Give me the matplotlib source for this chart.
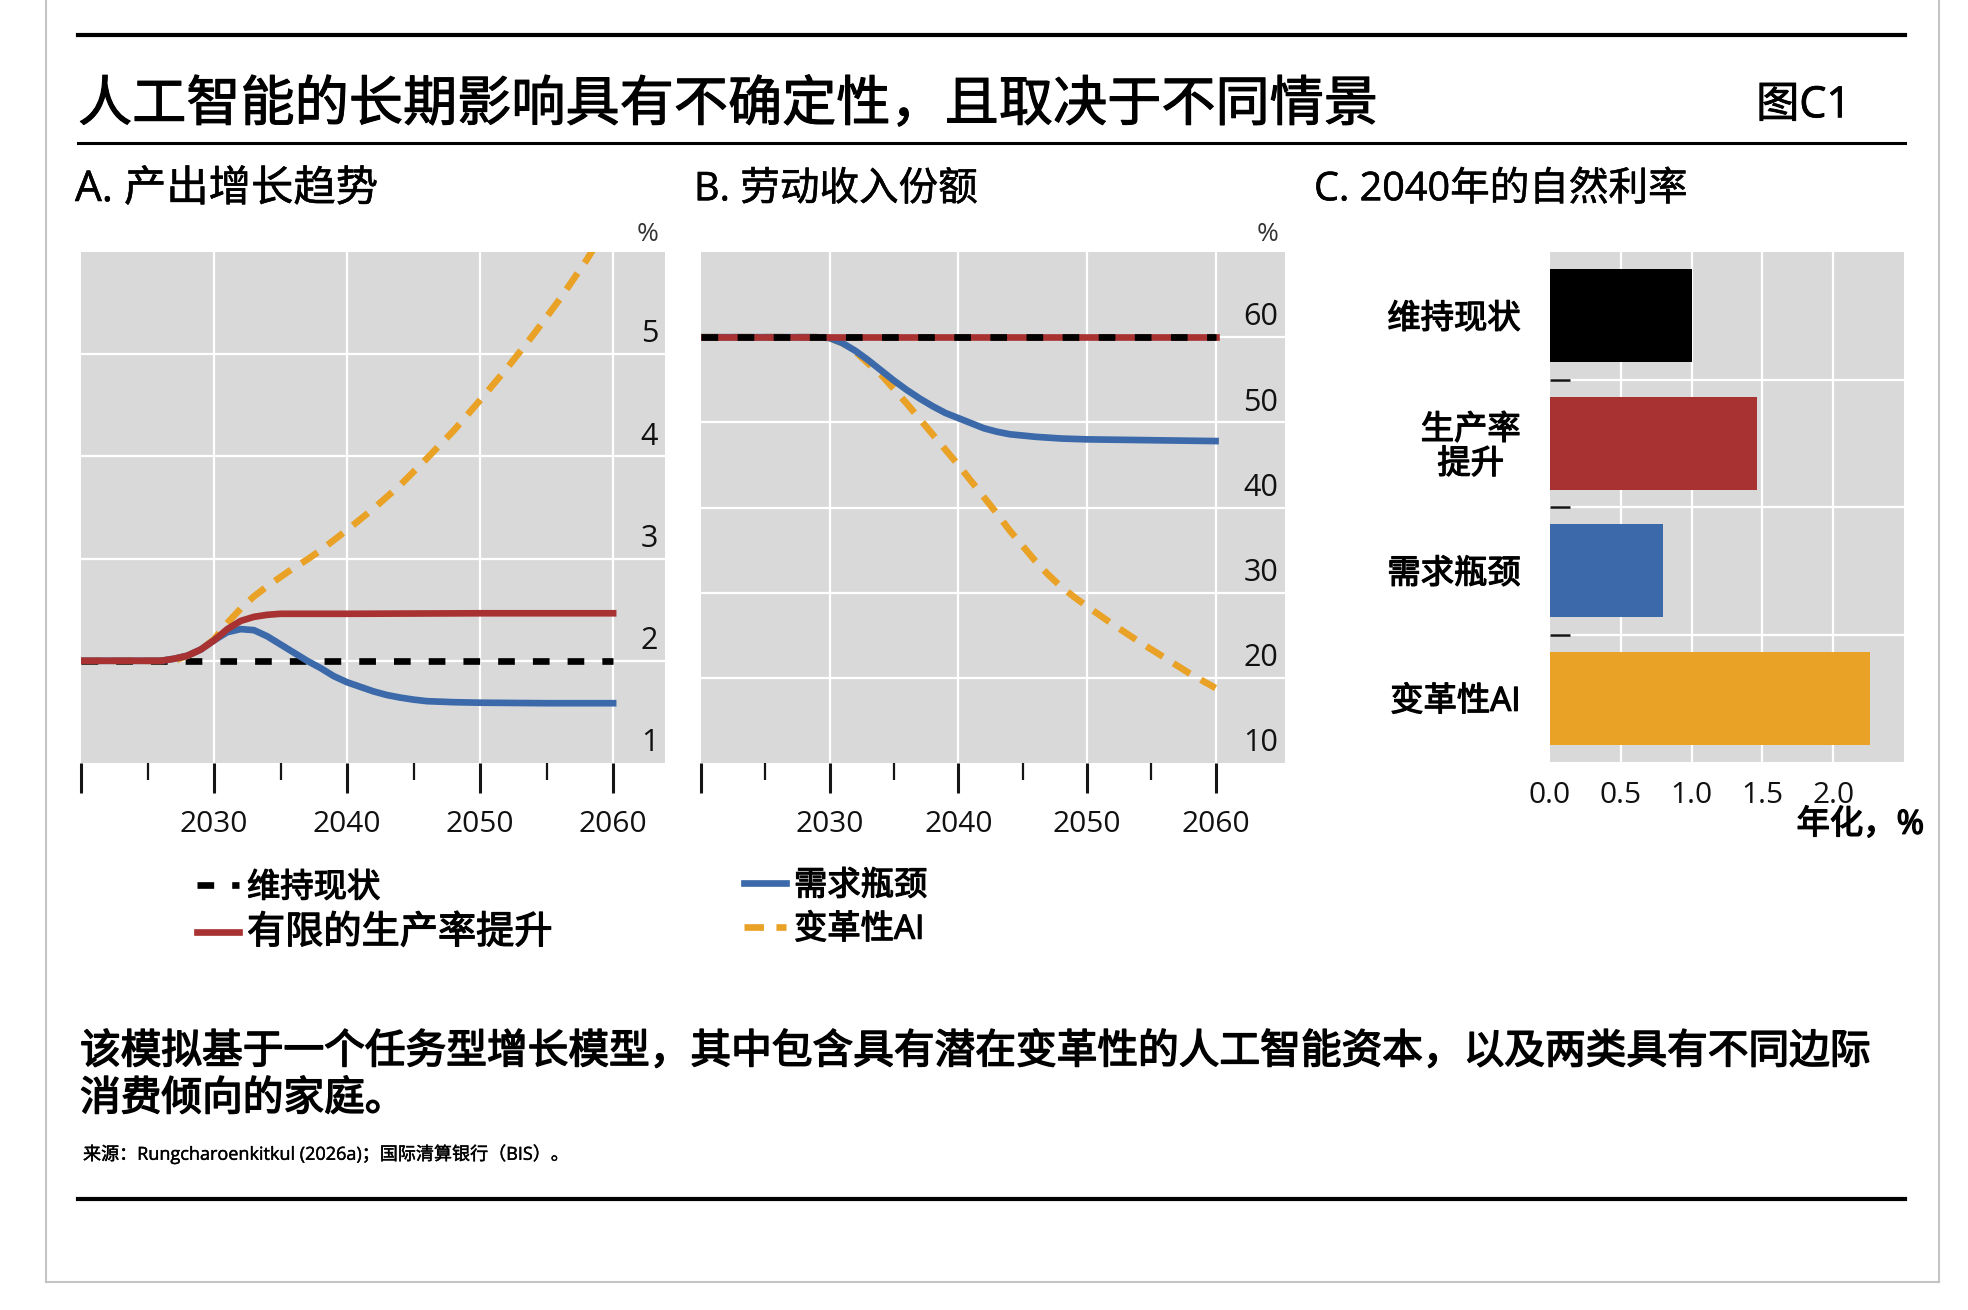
import matplotlib
matplotlib.use("Agg")
import matplotlib.pyplot as plt
import matplotlib.patheffects as pe
from matplotlib.lines import Line2D
from matplotlib.transforms import ScaledTranslation

plt.rcParams['font.family'] = ['Open Sans', 'Noto Sans CJK SC', 'DejaVu Sans']
plt.rcParams['lines.scale_dashes'] = False
plt.rcParams['axes.axisbelow'] = True

# Colours
BLACK = '#000000'
RED = '#a83232'
BLUE = '#3b69a9'
ORANGE = '#e9a126'
PANEL_BG = '#d9d9d9'
TICK_CLR = '#151515'

# ---- Panel A: output growth trend (%) ----
a_status_years = [2020, 2060]
a_status = [2.0, 2.0]
a_prod_years = [2020, 2026, 2027, 2028, 2029, 2030, 2031, 2032, 2033, 2034, 2035,
                2040, 2050, 2060]
a_prod = [2.0, 2.0, 2.02, 2.05, 2.11, 2.20, 2.31, 2.39, 2.43, 2.45, 2.46,
          2.46, 2.465, 2.465]
a_demand_years = [2020, 2026, 2027, 2028, 2029, 2030, 2031, 2032, 2033, 2034, 2035,
                  2036, 2037, 2038, 2039, 2040, 2041, 2042, 2043, 2044, 2045, 2046,
                  2048, 2050, 2055, 2060]
a_demand = [2.0, 2.0, 2.02, 2.05, 2.11, 2.20, 2.28, 2.31, 2.30, 2.24, 2.16,
            2.08, 2.0, 1.93, 1.85, 1.79, 1.745, 1.70, 1.665, 1.64, 1.62, 1.605,
            1.595, 1.59, 1.585, 1.585]
a_trans_years = [2020, 2027, 2028, 2029, 2030, 2031, 2032, 2033, 2034, 2035, 2036,
                 2037, 2038, 2040, 2042, 2044, 2046, 2048, 2050, 2052, 2054, 2056,
                 2058, 2060]
a_trans = [2.0, 2.0, 2.05, 2.11, 2.21, 2.37, 2.51, 2.63, 2.73, 2.82, 2.91,
           2.99, 3.08, 3.28, 3.49, 3.72, 3.98, 4.25, 4.55, 4.86, 5.19, 5.54,
           5.92, 6.35]
a_yticks = [1, 2, 3, 4, 5]

# ---- Panel B: labour income share (%) ----
b_status_years = [2020, 2060]
b_status = [60, 60]
b_prod_years = [2020, 2060]
b_prod = [60, 60]
b_demand_years = [2020, 2029, 2030, 2031, 2032, 2033, 2034, 2035, 2036, 2037, 2038,
                  2039, 2040, 2041, 2042, 2043, 2044, 2046, 2048, 2050, 2055, 2060]
b_demand = [60, 60, 59.9, 59.3, 58.4, 57.3, 56.1, 54.9, 53.8, 52.8, 51.9,
            51.1, 50.5, 49.9, 49.3, 48.9, 48.6, 48.3, 48.1, 48.0, 47.9, 47.8]
b_trans_years = [2020, 2029, 2030, 2031, 2032, 2033, 2034, 2035, 2036, 2037, 2038,
                 2039, 2040, 2041, 2042, 2043, 2044, 2045, 2046, 2047, 2048, 2049,
                 2050, 2052, 2054, 2056, 2058, 2060]
b_trans = [60, 60, 59.9, 59.3, 58.3, 56.9, 55.6, 53.9, 52.2, 50.4, 48.6,
           46.8, 45.0, 43.1, 41.2, 39.3, 37.3, 35.5, 33.7, 32.1, 30.7, 29.5,
           28.4, 26.3, 24.3, 22.4, 20.5, 18.8]
b_yticks = [10, 20, 30, 40, 50, 60]

# ---- Panel C: natural rate in 2040 (annualised, %) ----
c_labels = ['维持现状', '生产率\n提升', '需求瓶颈', '变革性AI']
c_values = [1.0, 1.46, 0.80, 2.26]
c_colors = [BLACK, RED, BLUE, ORANGE]
c_xticks = [0.0, 0.5, 1.0, 1.5, 2.0]
c_xticklabels = ['0.0', '0.5', '1.0', '1.5', '2.0']

x_major = [2020, 2030, 2040, 2050, 2060]
x_major_labels = ['', '2030', '2040', '2050', '2060']
x_minor = [2025, 2035, 2045, 2055]

legend_a = ['维持现状', '有限的生产率提升']
legend_b = ['需求瓶颈', '变革性AI']

W, H = 1968, 1310
fig = plt.figure(figsize=(W / 100, H / 100), dpi=100)


def fx(px):
    return px / W


def fy(py):
    return 1 - py / H


def heavy(w):
    # thicken the regular CJK face a little (no medium weight installed)
    return [pe.withStroke(linewidth=w, foreground='black')]


LW = 4.8
DASH_K = (12, 13)
DASH_O = (14, 9)


def line_panel(rect, xmax, ylim, yticks):
    ax = fig.add_axes(rect)
    ax.set_facecolor(PANEL_BG)
    for s in ax.spines.values():
        s.set_visible(False)
    ax.set_xlim(2020, xmax)
    ax.set_ylim(*ylim)
    ax.set_xticks(x_major)
    ax.set_xticklabels(x_major_labels)
    ax.set_xticks(x_minor, minor=True)
    ax.tick_params(axis='x', which='major', direction='out', length=21.5, width=2.2,
                   pad=12, labelsize=21.5, color=TICK_CLR, labelcolor='#111111')
    ax.tick_params(axis='x', which='minor', direction='out', length=12, width=1.6,
                   color=TICK_CLR)
    ax.set_yticks(yticks)
    ax.tick_params(axis='y', length=0, labelleft=False)
    ax.grid(True, which='major', color='white', linewidth=1.6)
    ax.get_xgridlines()[0].set_visible(False)
    ax.get_ygridlines()[0].set_visible(False)
    off = ScaledTranslation(-4.8 / 72, 8.5 / 72, fig.dpi_scale_trans)
    for v in yticks:
        ax.text(1, v, str(v), transform=ax.get_yaxis_transform() + off,
                ha='right', va='baseline', fontsize=22, color='#111111')
    ax.annotate('%', xy=(1, 1), xycoords='axes fraction', xytext=(-5, 3.5),
                textcoords='offset points', ha='right', va='bottom',
                fontsize=19, color='#333333')
    return ax


# Panel A
ax_a = line_panel([fx(81), fy(763), fx(584), 511 / H], 2063.9, (1, 6), a_yticks)
la1, = ax_a.plot(a_status_years, a_status, color=BLACK, lw=LW, dashes=DASH_K, zorder=2)
la4, = ax_a.plot(a_trans_years, a_trans, color=ORANGE, lw=LW, dashes=DASH_O, zorder=3)
la3, = ax_a.plot(a_demand_years, a_demand, color=BLUE, lw=LW, zorder=4)
la2, = ax_a.plot(a_prod_years, a_prod, color=RED, lw=LW, zorder=5)

# Panel B
ax_b = line_panel([fx(701), fy(763), fx(584), 511 / H], 2065.4, (10, 70), b_yticks)
ax_b.plot(b_trans_years, b_trans, color=ORANGE, lw=LW, dashes=DASH_O, zorder=2)
ax_b.plot(b_demand_years, b_demand, color=BLUE, lw=LW, zorder=3)
ax_b.plot(b_prod_years, b_prod, color=RED, lw=LW, zorder=4)
ax_b.plot(b_status_years, b_status, color=BLACK, lw=LW, dashes=(12, 14), zorder=5)

# Panel C
ax_c = fig.add_axes([fx(1550), fy(762), fx(354), 510 / H])
ax_c.set_facecolor(PANEL_BG)
for s in ax_c.spines.values():
    s.set_visible(False)
c_pos = [i + 0.5 for i in range(len(c_values))]
ax_c.barh(c_pos, c_values, height=0.73, color=c_colors, zorder=2)
ax_c.set_xlim(0, 2.5)
ax_c.set_ylim(len(c_values), 0)
ax_c.set_xticks(c_xticks)
ax_c.set_xticklabels(c_xticklabels)
ax_c.tick_params(axis='x', length=0, pad=14, labelsize=21.5, labelcolor='#111111')
ax_c.set_yticks(c_pos)
ax_c.set_yticklabels(c_labels)
ax_c.set_yticks([1, 2, 3], minor=True)
ax_c.tick_params(axis='y', which='major', length=0, pad=21, labelsize=24)
ax_c.tick_params(axis='y', which='minor', direction='in', length=14.5, width=1.8,
                 color=TICK_CLR)
for t in ax_c.get_yticklabels():
    t.set_multialignment('center')
    t.set_linespacing(1.05)
    t.set_path_effects(heavy(0.9))
ax_c.grid(True, axis='x', which='major', color='white', linewidth=1.6)
ax_c.grid(True, axis='y', which='minor', color='white', linewidth=1.6)
ax_c.get_xgridlines()[0].set_visible(False)
ax_c.text(1.057, -0.124, '年化，%', transform=ax_c.transAxes, ha='right', va='center',
          fontsize=24, path_effects=heavy(1.0))

# Legends
leg_a = fig.legend([la1, la2], legend_a, loc='upper left',
                   bbox_to_anchor=(fx(197), fy(872)), frameon=False, borderpad=0,
                   borderaxespad=0, handlelength=1.25, handletextpad=0.25,
                   labelspacing=0.28, fontsize=24)
leg_a.get_texts()[1].set_fontsize(27.5)
leg_b = fig.legend([la3, la4], legend_b, loc='upper left',
                   bbox_to_anchor=(fx(744), fy(870)), frameon=False, borderpad=0,
                   borderaxespad=0, handlelength=1.25, handletextpad=0.25,
                   labelspacing=0.32, fontsize=24)
for leg in (leg_a, leg_b):
    for t in leg.get_texts():
        t.set_path_effects(heavy(0.9))

# Titles and notes
fig.text(fx(78), fy(106), '人工智能的长期影响具有不确定性，且取决于不同情景',
         fontsize=39, ha='left', va='center', path_effects=heavy(0.8))
fig.text(fx(1851), fy(106), '图C1', fontsize=31, ha='right', va='center',
         path_effects=heavy(0.6))
fig.text(fx(75), fy(190), 'A. 产出增长趋势', fontsize=30.5, ha='left', va='center',
         path_effects=heavy(0.4))
fig.text(fx(694), fy(190), 'B. 劳动收入份额', fontsize=28.5, ha='left', va='center',
         path_effects=heavy(0.4))
fig.text(fx(1314), fy(190), 'C. 2040年的自然利率', fontsize=28.5, ha='left', va='center',
         path_effects=heavy(0.4))
fig.text(fx(80), fy(1053),
         '该模拟基于一个任务型增长模型，其中包含具有潜在变革性的人工智能资本，以及两类具有不同边际',
         fontsize=29.3, ha='left', va='center', path_effects=heavy(1.1))
fig.text(fx(80), fy(1100), '消费倾向的家庭。', fontsize=29.3, ha='left', va='center',
         path_effects=heavy(1.1))
fig.text(fx(83), fy(1154), '来源：Rungcharoenkitkul (2026a)；国际清算银行（BIS）。',
         fontsize=13, ha='left', va='center', path_effects=heavy(0.3))

# Rules and frame
for py, lw in [(35, 3.0), (143, 2.2), (1199, 3.0)]:
    fig.add_artist(Line2D([fx(78), fx(1905)], [fy(py), fy(py)], color='black', lw=lw))
frame = dict(color='#c4c4c4', lw=1.5)
fig.add_artist(Line2D([fx(46), fx(46)], [1, fy(1282)], **frame))
fig.add_artist(Line2D([fx(1939), fx(1939)], [1, fy(1282)], **frame))
fig.add_artist(Line2D([fx(46), fx(1939)], [fy(1282), fy(1282)], **frame))

fig.savefig('out.png', dpi=100, facecolor='white')
